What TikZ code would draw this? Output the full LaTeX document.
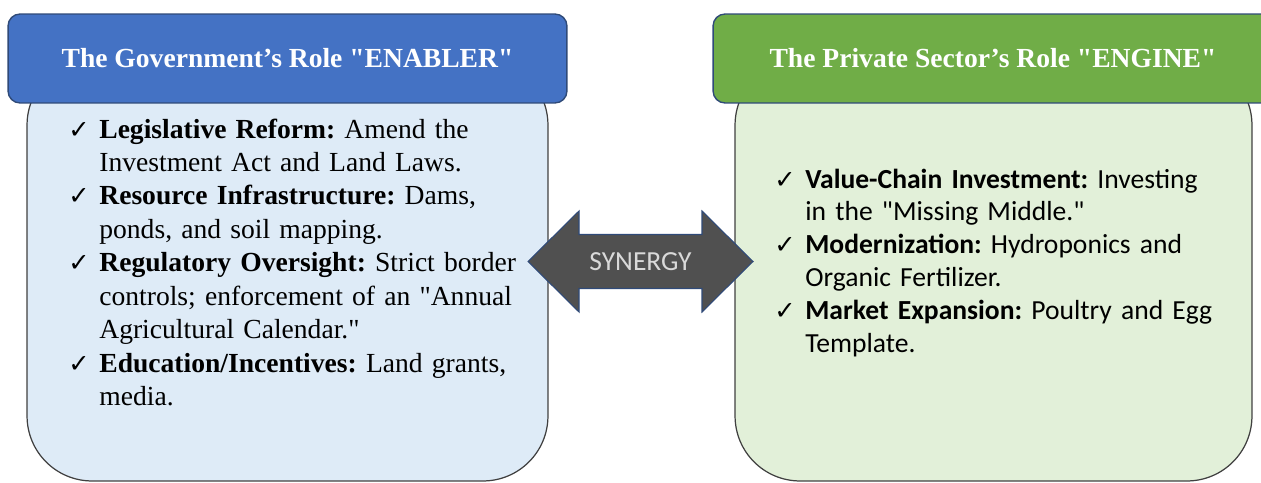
\documentclass[tikz,border=0pt]{standalone}
\usepackage{fontspec}
\newfontfamily\timesfont{Liberation Serif}
\newfontfamily\calibrifont{Carlito}
\newfontfamily\tickfont{DejaVu Sans}
\usepackage{xcolor}
\usepackage{tikz}

\definecolor{govblue}{HTML}{4472C4}
\definecolor{govpale}{HTML}{DEEBF7}
\definecolor{prigreen}{HTML}{70AD47}
\definecolor{pripale}{HTML}{E2F0D9}
\definecolor{headline}{HTML}{2F4A78}
\definecolor{synfill}{HTML}{505050}

\newcommand{\tickmark}{\leavevmode\llap{\makebox[17.6pt][l]{\tickfont\fontsize{14.5pt}{14.5pt}\selectfont ✓}}}

\begin{document}
\begin{tikzpicture}[
  x=0.02cm,y=-0.02cm,
  header/.style={draw=headline,line width=.8pt,rounded corners=.24cm,
    minimum height=1.78cm,text=white,
    font=\timesfont\fontsize{15.7pt}{18pt}\selectfont\bfseries},
  panel/.style={draw=black!75,line width=.7pt,rounded corners=1.3cm,
    minimum height=8.42cm},
  roles/.style={anchor=base west,inner sep=0pt,align=left,text width=9.4cm},
  govlist/.style={roles,font=\timesfont\fontsize{15.7pt}{19.06pt}\selectfont\frenchspacing},
  prilist/.style={roles,font=\calibrifont\fontsize{15.7pt}{18.78pt}\selectfont\frenchspacing},
  synarrow/.style={draw=headline,line width=.6pt,fill=synfill},
  synlabel/.style={text=black!15,font=\calibrifont\fontsize{15.7pt}{18pt}\selectfont}
]
\useasboundingbox (0,0) rectangle (1261,483);
\clip (0,0) rectangle (1261,483);

\node[panel,fill=govpale,minimum width=10.42cm] (govbody) at (287.5,270.5) {};
\node[panel,fill=pripale,minimum width=10.34cm] (pribody) at (993.5,270.5) {};

\node[header,fill=govblue,minimum width=11.18cm] (govhead) at (287.5,58.5)
  {The Government’s Role "ENABLER"};
\node[header,fill=prigreen,minimum width=11.2cm] (prihead) at (993,58.5)
  {The Private Sector’s Role "ENGINE"};

\node[govlist] (govitems) at (99,138) {%
  \tickmark\textbf{Legislative Reform:} Amend the\\
  Investment Act and Land Laws.\\
  \tickmark\textbf{Resource Infrastructure:} Dams,\\
  ponds, and soil mapping.\\
  \tickmark\textbf{Regulatory Oversight:} Strict border\\
  controls; enforcement of an "Annual\\
  Agricultural Calendar."\\
  \tickmark\textbf{Education/Incentives:} Land grants,\\
  media.};

\node[prilist] (priitems) at (805,188) {%
  \tickmark\textbf{Value-Chain Investment:} Investing\\
  in the "Missing Middle."\\
  \tickmark\textbf{Modernization:} Hydroponics and\\
  Organic Fertilizer.\\
  \tickmark\textbf{Market Expansion:} Poultry and Egg\\
  Template.};

\draw[synarrow] (528,261.5) -- (579,211) -- (579,234.5) -- (702,234.5)
  -- (702,211) -- (753,261.5) -- (702,312) -- (702,288.5)
  -- (579,288.5) -- (579,312) -- cycle;
\node[synlabel] (synergy) at (640.5,261.5) {SYNERGY};
\end{tikzpicture}
\end{document}
